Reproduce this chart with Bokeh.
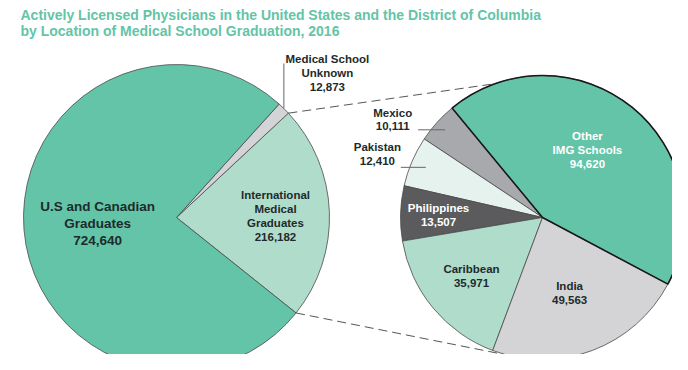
import math
from bokeh.plotting import figure
from bokeh.models import Range1d, ColumnDataSource
from bokeh.core.properties import value
from bokeh.embed import file_html
from bokeh.resources import INLINE

# ---------------- data ----------------
title_lines = ["Actively Licensed Physicians in the United States and the District of Columbia",
               "by Location of Medical School Graduation, 2016"]

left_cats = ["International\nMedical\nGraduates", "Medical School\nUnknown", "U.S and Canadian\nGraduates"]
left_vals = [216182, 12873, 724640]

right_cats = ["Other\nIMG Schools", "Mexico", "Pakistan", "Philippines", "Caribbean", "India"]
right_vals = [94620, 10111, 12410, 13507, 35971, 49563]

# ---------------- styles / layout ----------------
W, H = 672, 354
GREEN = "#64c4a7"
LIGHT_GREEN = "#b0dccb"
LIGHT_GRAY = "#d4d4d6"
DARK_GRAY = "#5b5b5d"
PALE = "#e5f2ed"
MID_GRAY = "#a8a9ac"
TEXT = "#1d2b2b"
FONT = value("Liberation Sans")

left_colors = [LIGHT_GREEN, LIGHT_GRAY, GREEN]
right_colors = [GREEN, MID_GRAY, PALE, DARK_GRAY, LIGHT_GREEN, LIGHT_GRAY]
left_text_colors = [TEXT, TEXT, TEXT]
right_text_colors = ["white", TEXT, TEXT, "white", TEXT, TEXT]

LC = (176, 153); LR = 153; L_START = -38.6
RC = (542, 153); RR = 142; R_START = -28.0

# label anchors as (radius, angle deg) around each pie centre
left_label_pos = [(99, 0.9), (209, 43.8), (79, 184.3)]
left_label_size = ["11.5px", "11.5px", "13.5px"]
right_label_pos = [(81, 56.3), (179, 146.8), (177, 158.9), (104, 178.6), (92, 219.5), (80, -70.2)]


def angles(vals, start_deg):
    tot = float(sum(vals))
    s, e = [], []
    a = math.radians(start_deg)
    for v in vals:
        s.append(a)
        a += 2 * math.pi * v / tot
        e.append(a)
    return s, e


def polar(c, r, deg):
    return c[0] + r * math.cos(math.radians(deg)), c[1] + r * math.sin(math.radians(deg))


p = figure(width=W, height=H, x_range=Range1d(0, W), y_range=Range1d(370 - H, 370),
           output_backend="svg", toolbar_location=None, min_border=0,
           x_axis_location=None, y_axis_location=None)
p.outline_line_color = None
p.grid.visible = False

ls, le = angles(left_vals, L_START)
rs, re_ = angles(right_vals, R_START)

p.wedge(x=LC[0], y=LC[1], radius=LR, start_angle=ls, end_angle=le,
        fill_color=left_colors, line_color="#4a4a4a", line_width=0.8)
p.wedge(x=RC[0], y=RC[1], radius=RR, start_angle=rs, end_angle=re_,
        fill_color=right_colors, line_color="#4a4a4a", line_width=0.8)
# darker outline for "Other IMG Schools"
p.wedge(x=RC[0], y=RC[1], radius=RR, start_angle=rs[:1], end_angle=re_[:1],
        fill_color=None, line_color="#1a1a1a", line_width=1.6)

# dashed connectors
img_lo, img_hi = math.degrees(ls[0]), math.degrees(le[0])
a1 = polar(LC, LR, img_hi); b1 = polar(RC, RR, 109.6)
a2 = polar(LC, LR, img_lo); b2 = polar(RC, RR, -103.8)
p.segment(x0=[a1[0], a2[0]], y0=[a1[1], a2[1]], x1=[b1[0], b2[0]], y1=[b1[1], b2[1]],
          line_color="#555555", line_width=1, line_dash="9 5")

# leader lines
unk_mid = math.degrees((ls[1] + le[1]) / 2)
t = polar(LC, LR, unk_mid)
mex_mid = math.degrees((rs[1] + re_[1]) / 2)
m = polar(RC, 131, mex_mid)
pak_mid = math.degrees((rs[2] + re_[2]) / 2)
k = polar(RC, 127, pak_mid)
p.segment(x0=[t[0], m[0], k[0]], y0=[t[1], m[1], k[1]],
          x1=[t[0], m[0] - 27, k[0] - 25], y1=[t[1] + 45, m[1], k[1]],
          line_color="#666666", line_width=1)

# labels
lx, ly, lt, lc, lsz = [], [], [], [], []
for cat, v, (r, d), col, sz in zip(left_cats, left_vals, left_label_pos, left_text_colors, left_label_size):
    x, y = polar(LC, r, d)
    lx.append(x); ly.append(y); lt.append(f"{cat}\n{v:,}"); lc.append(col); lsz.append(sz)
for cat, v, (r, d), col in zip(right_cats, right_vals, right_label_pos, right_text_colors):
    x, y = polar(RC, r, d)
    lx.append(x); ly.append(y); lt.append(f"{cat}\n{v:,}"); lc.append(col); lsz.append("11.5px")
src = ColumnDataSource(dict(x=lx, y=ly, text=lt, color=lc, size=lsz))
p.text(x="x", y="y", text="text", source=src, text_color="color", text_font_size="size",
       text_font=FONT, text_font_style="bold", text_align="center", text_baseline="middle",
       text_line_height=1.15)

# title
p.text(x=[20, 20], y=[370 - 14, 370 - 30], text=title_lines, text_color=GREEN,
       text_font=FONT, text_font_style="bold", text_font_size="14px",
       text_align="left", text_baseline="alphabetic")

open("out.html", "w").write(file_html(p, INLINE))
